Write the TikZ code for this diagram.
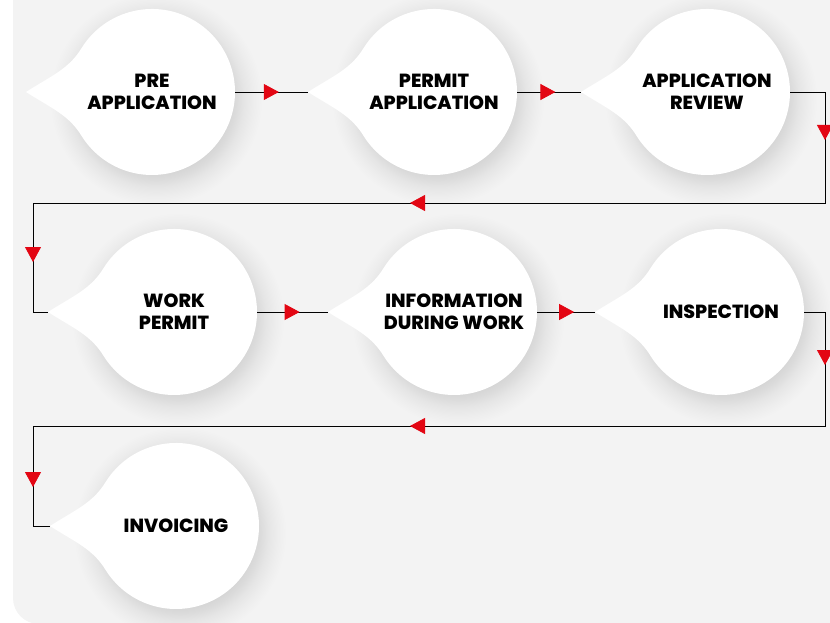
\documentclass[tikz,border=0pt]{standalone}
\usepackage{fontspec}
\setmainfont{Poppins}[BoldFont={Poppins ExtraBold}]
\usetikzlibrary{arrows.meta,decorations.markings,backgrounds}
\definecolor{bggrey}{HTML}{F3F3F3}
\definecolor{arrowred}{HTML}{E30613}

% soft shadow under a drop
\pgfdeclareradialshading{dropshadow}{\pgfpointorigin}{%
  color(0bp)=(black!17); color(72bp)=(black!17); color(80bp)=(black!14);
  color(88bp)=(black!10); color(97bp)=(black!7); color(106bp)=(bggrey)}

% white drop round a step node, its tip as (name-tip)
\newcommand{\teardrop}[1]{%
  \coordinate (#1-tip) at ([xshift=-126pt]#1.center);
  \node[inner sep=0pt] at ([shift={(4pt,-7pt)}]#1.center) {\pgfuseshading{dropshadow}};
  \fill[white]
    (#1-tip) .. controls +(25pt,16pt) and ([shift={(-83pt,23pt)}]#1.center) .. ([shift={(-70.4pt,44pt)}]#1.center)
    arc[start angle=148, end angle=-148, radius=83pt]
    .. controls ([shift={(-83pt,-23pt)}]#1.center) and ([shift={(-101pt,-16pt)}]#1.center) .. (#1-tip) -- cycle;}

\begin{document}
\begin{tikzpicture}[x=1pt,y=-1pt,
  stepnode/.style={circle, minimum size=166pt, inner sep=0pt, outer sep=0pt, align=center,
    font=\fontsize{19}{22}\selectfont\bfseries},
  flow/.style={draw=black, line width=0.8pt},
  arrowat/.style={postaction={decorate, decoration={markings,
    mark=at position #1 with {\arrow[color=arrowred]{Triangle[length=15pt,width=16pt]}}}}}]
\useasboundingbox (0,0) rectangle (830,623);

\node[stepnode] (pre) at (152,92) {PRE\\APPLICATION};
\node[stepnode] (permit) at (434,92) {PERMIT\\APPLICATION};
\node[stepnode] (review) at (707,92) {APPLICATION\\REVIEW};
\node[stepnode] (work) at (174,312) {WORK\\PERMIT};
\node[stepnode] (info) at (454,312) {INFORMATION\\DURING WORK};
\node[stepnode] (inspect) at (721,312) {INSPECTION};
\node[stepnode] (invoice) at (176,526) {INVOICING};

\begin{scope}[on background layer]
\fill[bggrey, rounded corners=26pt] (13,-40) rectangle (880,624); % panel
\teardrop{pre}
\teardrop{permit}
\teardrop{review}
\teardrop{work}
\teardrop{info}
\teardrop{inspect}
\teardrop{invoice}
\end{scope}

\coordinate (ra) at (825,203); % row 1 -> row 2
\coordinate (la) at (33,203);
\coordinate (rb) at (825,426); % row 2 -> row 3
\coordinate (lb) at (33,426);

\draw[flow, arrowat=0.6] (pre.east) -- (permit-tip);
\draw[flow, arrowat=0.6] (permit.east) -- (review-tip);
\draw[flow, arrowat=83pt, arrowat=561pt, arrowat=997pt] (review.east) -| (ra) -- (la) |- (work-tip);
\draw[flow, arrowat=0.6] (work.east) -- (info-tip);
\draw[flow, arrowat=0.64] (info.east) -- (inspect-tip);
\draw[flow, arrowat=74pt, arrowat=550pt, arrowat=988pt] (inspect.east) -| (rb) -- (lb) |- (invoice-tip);
\end{tikzpicture}
\end{document}
